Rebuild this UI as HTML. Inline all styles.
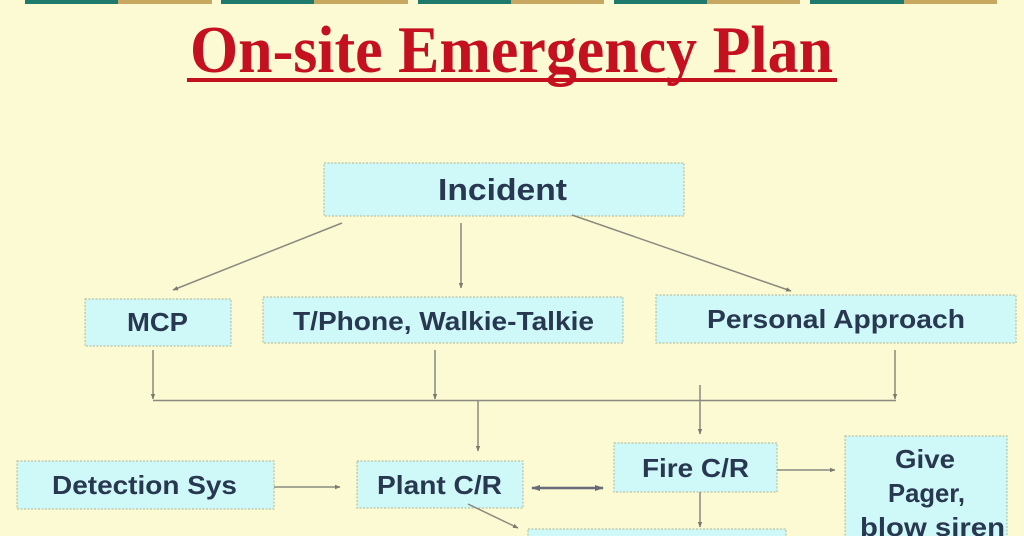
<!DOCTYPE html>
<html><head><meta charset="utf-8"><style>
html,body{margin:0;padding:0;background:#fbfad3;}
svg{display:block;}
.b{fill:#cff8f8;stroke:#b9c2a2;stroke-width:1.2;stroke-dasharray:2 1.5;}
.t{font-family:"Liberation Sans",Arial,sans-serif;font-weight:bold;fill:#283850;}
.l{stroke:#8a8a80;stroke-width:1.5;fill:none;}
</style></head><body>
<svg width="1024" height="536" viewBox="0 0 1024 536" xmlns="http://www.w3.org/2000/svg">
<defs>
<marker id="a" markerWidth="6" markerHeight="6" refX="5" refY="3" orient="auto" markerUnits="userSpaceOnUse">
<path d="M0,0.8 L5.5,3 L0,5.2 Z" fill="#7a7a70"/>
</marker>
<marker id="d" markerWidth="10" markerHeight="8" refX="8" refY="4" orient="auto-start-reverse" markerUnits="userSpaceOnUse">
<path d="M0,1 L9,4 L0,7 Z" fill="#6a6a78"/>
</marker>
</defs>
<rect width="1024" height="536" fill="#fbfad3"/>
<!-- top bar -->
<g>
<rect x="25" y="0" width="93" height="4" fill="#1f7a6e"/><rect x="118" y="0" width="94" height="4" fill="#c8a860"/>
<rect x="221" y="0" width="93" height="4" fill="#1f7a6e"/><rect x="314" y="0" width="94" height="4" fill="#c8a860"/>
<rect x="418" y="0" width="93" height="4" fill="#1f7a6e"/><rect x="511" y="0" width="93" height="4" fill="#c8a860"/>
<rect x="614" y="0" width="93" height="4" fill="#1f7a6e"/><rect x="707" y="0" width="93" height="4" fill="#c8a860"/>
<rect x="810" y="0" width="94" height="4" fill="#1f7a6e"/><rect x="904" y="0" width="93" height="4" fill="#c8a860"/>
</g>
<!-- title -->
<text x="190" y="72" font-family="'Liberation Serif','Times New Roman',serif" font-weight="bold" font-size="67" fill="#c4101f" textLength="643" lengthAdjust="spacingAndGlyphs">On-site Emergency Plan</text>
<rect x="187" y="78" width="650" height="4" fill="#c4101f"/>

<!-- boxes -->
<rect class="b" x="324" y="163" width="360" height="53"/>
<text class="t" x="438" y="200" font-size="31" textLength="129" lengthAdjust="spacingAndGlyphs">Incident</text>

<rect class="b" x="85" y="299" width="146" height="47"/>
<text class="t" x="127" y="331" font-size="26" textLength="61" lengthAdjust="spacingAndGlyphs">MCP</text>

<rect class="b" x="263" y="297" width="360" height="46"/>
<text class="t" x="293" y="330" font-size="26" textLength="301" lengthAdjust="spacingAndGlyphs">T/Phone, Walkie-Talkie</text>

<rect class="b" x="656" y="295" width="360" height="48"/>
<text class="t" x="707" y="328" font-size="26" textLength="258" lengthAdjust="spacingAndGlyphs">Personal Approach</text>

<rect class="b" x="17" y="461" width="257" height="48"/>
<text class="t" x="52" y="494" font-size="26" textLength="185" lengthAdjust="spacingAndGlyphs">Detection Sys</text>

<rect class="b" x="357" y="461" width="166" height="47"/>
<text class="t" x="377" y="494" font-size="26" textLength="125" lengthAdjust="spacingAndGlyphs">Plant C/R</text>

<rect class="b" x="614" y="443" width="163" height="49"/>
<text class="t" x="642" y="477" font-size="26" textLength="107" lengthAdjust="spacingAndGlyphs">Fire C/R</text>

<rect class="b" x="845" y="436" width="162" height="110"/>
<text class="t" x="895" y="468" font-size="26" textLength="60" lengthAdjust="spacingAndGlyphs">Give</text>
<text class="t" x="888" y="502" font-size="26" textLength="77" lengthAdjust="spacingAndGlyphs">Pager,</text>
<text class="t" x="860" y="536" font-size="26" textLength="145" lengthAdjust="spacingAndGlyphs">blow siren</text>

<rect class="b" x="528" y="529" width="258" height="20"/>

<!-- connectors -->
<line class="l" x1="342" y1="223" x2="173" y2="290" marker-end="url(#a)"/>
<line class="l" x1="461" y1="223" x2="461" y2="288" marker-end="url(#a)"/>
<line class="l" x1="572" y1="215" x2="791" y2="291" marker-end="url(#a)"/>

<line class="l" x1="153" y1="350" x2="153" y2="399" marker-end="url(#a)"/>
<line class="l" x1="435" y1="350" x2="435" y2="399" marker-end="url(#a)"/>
<line class="l" x1="895" y1="350" x2="895" y2="399" marker-end="url(#a)"/>
<line class="l" x1="153" y1="400.5" x2="896" y2="400.5"/>
<line class="l" x1="478" y1="401" x2="478" y2="451" marker-end="url(#a)"/>
<line class="l" x1="700" y1="385" x2="700" y2="434" marker-end="url(#a)"/>

<line class="l" x1="274" y1="487" x2="340" y2="487" marker-end="url(#a)"/>
<line x1="532" y1="488" x2="603" y2="488" stroke="#6a6a78" stroke-width="2.5" marker-start="url(#d)" marker-end="url(#d)"/>
<line class="l" x1="777" y1="470" x2="835" y2="470" marker-end="url(#a)"/>
<line class="l" x1="700" y1="492" x2="700" y2="527" marker-end="url(#a)"/>
<line class="l" x1="468" y1="504" x2="518" y2="528" marker-end="url(#a)"/>
</svg>
</body></html>
